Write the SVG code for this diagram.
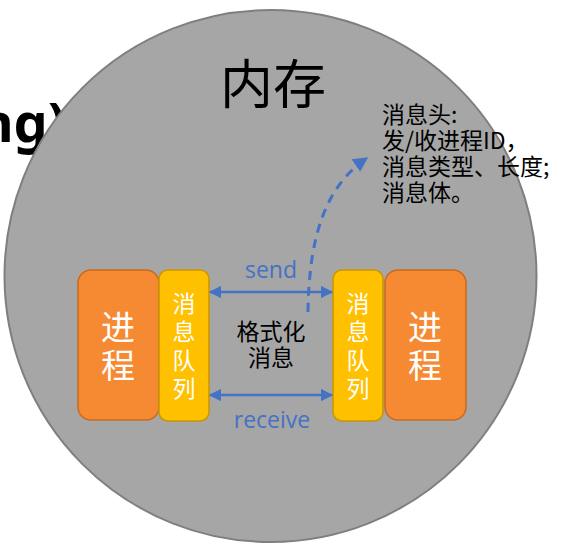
<svg xmlns="http://www.w3.org/2000/svg" width="563" height="560" viewBox="0 0 563 560">
<style>
.cjk{font-family:"Noto Sans CJK SC","Noto Sans",sans-serif}
.lat{font-family:"Open Sans","Noto Sans CJK SC",sans-serif}
.proc{fill:#f68a33;stroke:#c8691f;stroke-width:1.5}
.queue{fill:#ffc000;stroke:#c99700;stroke-width:1.5}
.wt{fill:#ffffff;text-anchor:middle}
.blue{fill:#4472c4}
</style>
<defs>
<marker id="ah" viewBox="0 0 10 10" refX="9" refY="5" markerWidth="5" markerHeight="5" orient="auto-start-reverse" markerUnits="strokeWidth">
<path d="M0,0 L10,5 L0,10 Z" fill="#4472c4"/>
</marker>
</defs>
<rect width="563" height="560" fill="#ffffff"/>
<text x="66" y="142" font-family="'Noto Sans','DejaVu Sans',sans-serif" font-size="54" font-weight="bold" text-anchor="end" fill="#000">ng)</text>
<g id="memory">
<circle cx="270.5" cy="276" r="266" fill="#a6a6a6" stroke="#7f7f7f" stroke-width="2"/>
<text x="273" y="104" class="cjk" font-size="53" text-anchor="middle" fill="#000">内存</text>
</g>
<g id="process-left">
<rect class="proc" x="78" y="270" width="81" height="150" rx="13"/>
<text class="cjk wt" font-size="34" x="118" y="340">进</text>
<text class="cjk wt" font-size="34" x="118" y="378">程</text>
</g>
<g id="queue-left">
<rect class="queue" x="159" y="270" width="50" height="151" rx="9"/>
<text class="cjk wt" font-size="23" x="184" y="312">消</text>
<text class="cjk wt" font-size="23" x="184" y="340">息</text>
<text class="cjk wt" font-size="23" x="184" y="369">队</text>
<text class="cjk wt" font-size="23" x="184" y="397">列</text>
</g>
<g id="queue-right">
<rect class="queue" x="333" y="270" width="50" height="151" rx="9"/>
<text class="cjk wt" font-size="23" x="358" y="312">消</text>
<text class="cjk wt" font-size="23" x="358" y="340">息</text>
<text class="cjk wt" font-size="23" x="358" y="369">队</text>
<text class="cjk wt" font-size="23" x="358" y="397">列</text>
</g>
<g id="process-right">
<rect class="proc" x="385" y="270" width="81" height="150" rx="13"/>
<text class="cjk wt" font-size="34" x="425" y="340">进</text>
<text class="cjk wt" font-size="34" x="425" y="378">程</text>
</g>
<g id="connectors" fill="none" stroke="#4472c4">
<line x1="210" y1="292" x2="332" y2="292" stroke-width="2.5" marker-start="url(#ah)" marker-end="url(#ah)"/>
<line x1="210" y1="395" x2="332" y2="395" stroke-width="2.5" marker-start="url(#ah)" marker-end="url(#ah)"/>
<path d="M308,312 C309,235 326,186 367,158" stroke-width="3" stroke-dasharray="9,7" marker-end="url(#ah)"/>
</g>
<g id="labels">
<text class="lat blue" font-size="23" x="271" y="278" text-anchor="middle">send</text>
<text class="lat blue" font-size="23" x="272" y="428" text-anchor="middle">receive</text>
<text class="cjk" font-size="23" x="271" y="340" text-anchor="middle" fill="#000">格式化</text>
<text class="cjk" font-size="23" x="271" y="366" text-anchor="middle" fill="#000">消息</text>
</g>
<g id="note" class="cjk" font-size="23" fill="#000">
<text x="382" y="123">消息头:</text>
<text x="382" y="149">发/收进程ID，</text>
<text x="382" y="175">消息类型、长度;</text>
<text x="382" y="201">消息体。</text>
</g>
</svg>
